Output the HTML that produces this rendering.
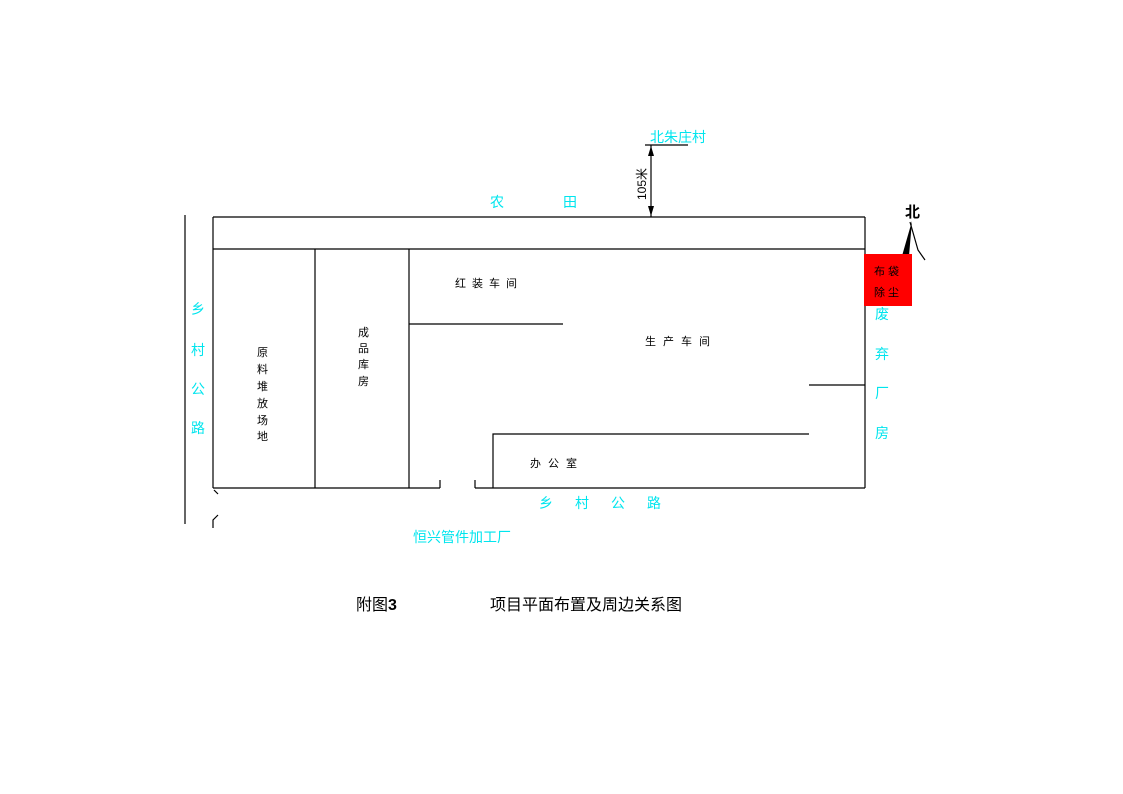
<!DOCTYPE html>
<html><head><meta charset="utf-8"><style>
body{margin:0;background:#fff;}
svg{display:block;}
text{font-family:"Liberation Sans","Noto Sans CJK SC",sans-serif;}
.c{fill:#00e5ee;font-size:14px;}
.k{fill:#000;font-size:11px;}
</style></head><body>
<svg width="1123" height="794" viewBox="0 0 1123 794" xmlns="http://www.w3.org/2000/svg">
<g stroke="#000" stroke-width="1.2" fill="none">
<line x1="213" y1="217" x2="865" y2="217"/>
<line x1="213" y1="249" x2="865" y2="249"/>
<line x1="865" y1="217" x2="865" y2="488"/>
<line x1="213" y1="217" x2="213" y2="488"/>
<line x1="213" y1="488" x2="440" y2="488"/>
<line x1="475" y1="488" x2="865" y2="488"/>
<line x1="440" y1="480" x2="440" y2="488"/>
<line x1="475" y1="480" x2="475" y2="488"/>
<line x1="315" y1="249" x2="315" y2="488"/>
<line x1="409" y1="249" x2="409" y2="488"/>
<line x1="409" y1="324" x2="563" y2="324"/>
<polyline points="493,488 493,434 809,434"/>
<line x1="809" y1="385" x2="865" y2="385"/>
<line x1="185" y1="215" x2="185" y2="524"/>
<polyline points="214,490 218,494"/>
<polyline points="213,528 213,520 218,515"/>
<line x1="651" y1="145" x2="651" y2="217"/>
<line x1="645" y1="145" x2="688" y2="145"/>
<polyline points="910,222 918,250 925,260"/>
</g>
<polygon points="651,146 648,156 654,156" fill="#000"/>
<polygon points="651,216 648,206 654,206" fill="#000"/>
<polygon points="912,221 902,256 909,256" fill="#000"/>
<text x="0" y="0" transform="translate(646,200) rotate(-90)" font-size="12" fill="#000">105米</text>
<text x="905" y="217" font-size="15" font-weight="bold" fill="#000">北</text>
<rect x="864" y="254" width="48" height="52" fill="#ff0000"/>
<text class="k" x="874" y="275">布 袋</text>
<text class="k" x="874" y="296">除 尘</text>
<text class="c" x="650" y="142">北朱庄村</text>
<text class="c" x="490" y="207">农</text>
<text class="c" x="563" y="207">田</text>
<g class="c"><text x="191" y="314">乡</text><text x="191" y="355">村</text><text x="191" y="394">公</text><text x="191" y="433">路</text></g>
<g class="c"><text x="875" y="319">废</text><text x="875" y="359">弃</text><text x="875" y="398">厂</text><text x="875" y="438">房</text></g>
<text class="c" x="539" y="508" letter-spacing="22">乡村公路</text>
<text class="c" x="413" y="542" font-size="13">恒兴管件加工厂</text>
<text class="k" x="455" y="287" letter-spacing="6">红装车间</text>
<text class="k" x="645" y="345" letter-spacing="7">生产车间</text>
<text class="k" x="530" y="467" letter-spacing="7">办公室</text>
<g class="k"><text x="257" y="356">原</text><text x="257" y="373">料</text><text x="257" y="390">堆</text><text x="257" y="407">放</text><text x="257" y="424">场</text><text x="257" y="440">地</text></g>
<g class="k"><text x="358" y="336">成</text><text x="358" y="352">品</text><text x="358" y="368">库</text><text x="358" y="385">房</text></g>
<text x="356" y="610" font-size="16" fill="#000" font-family="Liberation Serif,Noto Serif CJK SC,serif">附图<tspan font-weight="bold">3</tspan></text>
<text x="490" y="610" font-size="16" fill="#000" font-family="Liberation Serif,Noto Serif CJK SC,serif">项目平面布置及周边关系图</text>
</svg>
</body></html>
